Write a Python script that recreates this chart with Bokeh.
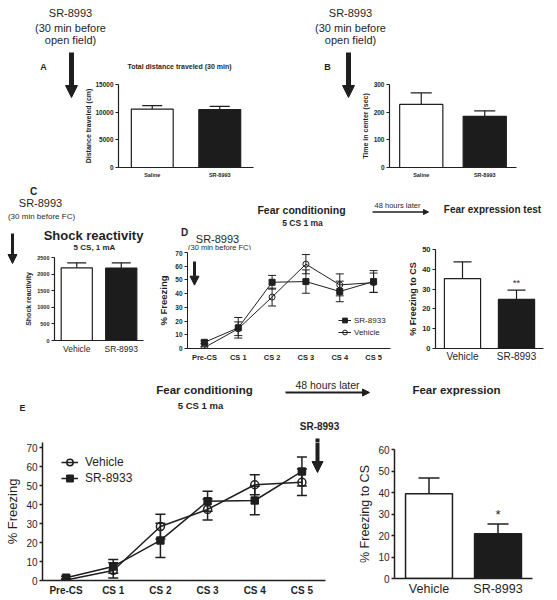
from bokeh.plotting import figure
from bokeh.layouts import row, column
from bokeh.models import (Range1d, FixedTicker, Label, Arrow, NormalHead,
                          Whisker, TeeHead, ColumnDataSource, Legend, LegendItem)
from bokeh.core.properties import value
from bokeh.embed import file_html
from bokeh.resources import INLINE

# ---------------- data ----------------
open_field_groups = ["Saline", "SR-8993"]
distance_mean = [10550, 10450]
distance_sem = [650, 600]
center_time_mean = [228, 185]
center_time_sem = [42, 20]

treat_groups = ["Vehicle", "SR-8993"]
shock_mean = [2190, 2180]
shock_sem = [150, 160]

stages = ["Pre-CS", "CS 1", "CS 2", "CS 3", "CS 4", "CS 5"]
d_sr_mean = [4.5, 15.1, 48.3, 48.8, 41.6, 48.8]
d_sr_sem = [1.0, 7.5, 5.0, 8.5, 7.5, 8.0]
d_veh_mean = [0.7, 14.4, 37.5, 61.5, 46.4, 48.0]
d_veh_sem = [0.6, 5.0, 6.5, 7.0, 8.0, 7.0]
d_test_mean = [35.3, 24.8]
d_test_sem = [8.4, 4.7]
d_test_sig = ["", "**"]

e_veh_mean = [0.3, 5.3, 28.4, 37.4, 50.4, 51.7]
e_veh_sem = [0.5, 4.0, 6.5, 5.5, 5.3, 7.0]
e_sr_mean = [1.4, 7.4, 21.1, 41.7, 42.1, 57.4]
e_sr_sem = [0.8, 3.6, 9.0, 5.3, 7.5, 7.6]
e_test_mean = [39.4, 20.8]
e_test_sem = [7.3, 4.6]
e_test_sig = ["", "*"]

# ---------------- style ----------------
FONT = "Liberation Sans"
INK = "#1f1f1f"
BAR_FILLS = ["white", "#1c1c1c"]


def slots(cats):
    return list(range(1, len(cats) + 1))


def cat_range(cats):
    return Range1d(0.5, len(cats) + 0.5)


def make_fig(ox, oy, w, h, x_range=None, y_range=None, bl=0, br=0, bt=0, bb=0, axes=True):
    if not axes:
        x_range = Range1d(ox, ox + w)
        y_range = Range1d(oy + h, oy)
    kw = {} if axes else dict(x_axis_type=None, y_axis_type=None)
    p = figure(width=w, height=h, x_range=x_range, y_range=y_range, title=None,
               output_backend="svg", toolbar_location=None,
               min_border_left=bl, min_border_right=br,
               min_border_top=bt, min_border_bottom=bb, **kw)
    try:
        p.frame_align = False
    except Exception:
        pass
    p.outline_line_color = None
    p.background_fill_color = "white"
    p.border_fill_color = "white"
    if axes:
        p.xgrid.visible = False
        p.ygrid.visible = False
    # page-pixel coordinates for free annotations
    p.extra_x_ranges = {"px": Range1d(ox + bl, ox + w - br)}
    p.extra_y_ranges = {"px": Range1d(oy + h - bb, oy + bt)}
    return p


def text(p, x, y, s, size, bold=False, align="center"):
    p.add_layout(Label(x=x, y=y, text=s, x_range_name="px", y_range_name="px",
                       text_font=FONT, text_font_size=f"{size}px",
                       text_font_style="bold" if bold else "normal",
                       text_color=INK, text_align=align, text_baseline="middle"))


def arrow(p, x0, y0, x1, y1, lw, head):
    p.add_layout(Arrow(x_start=x0, y_start=y0, x_end=x1, y_end=y1,
                       x_range_name="px", y_range_name="px",
                       line_width=lw, line_color=INK,
                       end=NormalHead(size=head, fill_color=INK, line_color=INK, line_width=1)))


def axes_style(p, cats, yticks, y_tick_px, y_tick_bold, y_title, y_title_px, y_title_bold,
               x_tick_px, x_tick_bold, x_standoff, lw, title_standoff):
    ya, xa = p.yaxis[0], p.xaxis[0]
    for a in (ya, xa):
        a.axis_line_color = INK
        a.axis_line_width = lw
        a.major_label_text_font = FONT
        a.major_label_text_color = INK
        a.minor_tick_line_color = None
    ya.ticker = FixedTicker(ticks=yticks)
    ya.major_tick_in = 0
    ya.major_tick_out = 3
    ya.major_tick_line_color = INK
    ya.major_tick_line_width = lw
    ya.major_label_text_font_size = f"{y_tick_px}px"
    ya.major_label_text_font_style = "bold" if y_tick_bold else "normal"
    ya.major_label_standoff = 2
    ya.axis_label = y_title
    ya.axis_label_text_font = FONT
    ya.axis_label_text_font_size = f"{y_title_px}px"
    ya.axis_label_text_font_style = "bold" if y_title_bold else "normal"
    ya.axis_label_text_color = INK
    ya.axis_label_standoff = title_standoff
    xa.ticker = FixedTicker(ticks=slots(cats))
    xa.major_label_overrides = {i: c for i, c in zip(slots(cats), cats)}
    xa.major_tick_line_color = None
    xa.major_tick_in = 0
    xa.major_tick_out = 0
    xa.major_label_text_font_size = f"{x_tick_px}px"
    xa.major_label_text_font_style = "bold" if x_tick_bold else "normal"
    xa.major_label_standoff = x_standoff


def bars(p, groups, means, sems, width, cap, lw, sig=None, sig_px=9):
    data = dict(x=slots(groups), m=means, hi=[a + b for a, b in zip(means, sems)],
                fill=BAR_FILLS)
    if sig is not None:
        data["sig"] = sig
    src = ColumnDataSource(data)
    p.add_layout(Whisker(source=src, base="x", lower="m", upper="hi", line_color=INK,
                         line_width=lw, lower_head=None,
                         upper_head=TeeHead(size=cap, line_color=INK, line_width=lw)))
    p.vbar(x="x", top="m", bottom=0, width=width, fill_color="fill", line_color=INK,
           line_width=lw, source=src)
    if sig is not None:
        p.text(x="x", y="hi", text="sig", source=src, text_font=value(FONT),
               text_font_size=f"{sig_px}px", text_color=INK, text_align="center",
               text_baseline="bottom", y_offset=-2)


def series(p, means, sems, marker, size, fill, lw, cap):
    src = ColumnDataSource(dict(x=slots(stages), y=means,
                                lo=[a - b for a, b in zip(means, sems)],
                                hi=[a + b for a, b in zip(means, sems)]))
    p.add_layout(Whisker(source=src, base="x", lower="lo", upper="hi", line_color=INK,
                         line_width=lw,
                         upper_head=TeeHead(size=cap, line_color=INK, line_width=lw),
                         lower_head=TeeHead(size=cap, line_color=INK, line_width=lw)))
    l = p.line("x", "y", source=src, line_color=INK, line_width=lw)
    s = p.scatter("x", "y", source=src, marker=marker, size=size, fill_color=fill,
                  line_color=INK, line_width=lw)
    return [l, s]


def legend(p, items, loc, gw, gh, standoff, px):
    p.add_layout(Legend(items=[LegendItem(label=k, renderers=r) for k, r in items],
                        location=loc, orientation="vertical", padding=0, margin=0,
                        spacing=0, glyph_width=gw, glyph_height=gh, label_height=gh,
                        label_standoff=standoff, label_text_font=FONT,
                        label_text_font_size=f"{px}px", label_text_color=INK,
                        border_line_color=None, background_fill_alpha=0))


# ================= Row 1: panels A and B =================
s1 = make_fig(0, 0, 556, 48, axes=False)
for cx in (70, 350):
    for yy, s in [(12, "SR-8993"), (27, "(30 min before"), (39, "open field)")]:
        text(s1, cx, yy, s, 11)

annoA = make_fig(0, 48, 82, 132, axes=False)
arrow(annoA, 71, 52, 71, 97, 5, 12)
text(annoA, 43, 66, "A", 9, True)

annoAt = make_fig(82, 48, 208, 32, axes=False)
text(annoAt, 179, 66, "Total distance traveled (30 min)", 7, True)

fa = make_fig(82, 80, 208, 100, cat_range(open_field_groups), Range1d(0, 15000),
              bl=33, br=37, bt=4, bb=13)
axes_style(fa, open_field_groups, [0, 5000, 10000, 15000], 6.5, True,
           "Distance traveled (cm)", 7, True, 5.5, True, 4, 1.2, 0)
bars(fa, open_field_groups, distance_mean, distance_sem, 0.62, 20, 1.2)

annoB = make_fig(290, 48, 68, 132, axes=False)
arrow(annoB, 348, 52, 348, 97, 5, 12)
text(annoB, 327, 66, "B", 9, True)

fb = make_fig(358, 48, 198, 132, cat_range(open_field_groups), Range1d(0, 300),
              bl=28, br=40, bt=36, bb=13)
axes_style(fb, open_field_groups, [0, 100, 200, 300], 6.5, True,
           "Time in center (sec)", 7, True, 5.5, True, 4, 1.2, 2)
bars(fb, open_field_groups, center_time_mean, center_time_sem, 0.68, 21, 1.2)

# ================= Strip above C / D =================
s2 = make_fig(0, 180, 556, 47, axes=False)
text(s2, 33, 191, "C", 10, True)
text(s2, 40, 202, "SR-8993", 11)
text(s2, 41, 216, "(30 min before FC)", 8)
text(s2, 301, 209, "Fear conditioning", 10.5, True)
text(s2, 302, 222, "5 CS 1 ma", 8.5, True)
text(s2, 397, 205, "48 hours later", 7.5)
arrow(s2, 372, 211.5, 428, 211.5, 1.5, 5)
text(s2, 492, 209, "Fear expression test", 10, True)

# ================= Row 2: C, D (line), D (bar) =================
annoCl = make_fig(0, 227, 20, 137, axes=False)
arrow(annoCl, 12, 233, 12, 263, 3, 9)

annoCt = make_fig(20, 227, 130, 28, axes=False)
text(annoCt, 93, 235, "Shock reactivity", 13, True)
text(annoCt, 94, 247, "5 CS, 1 mA", 8, True)

fc = make_fig(20, 255, 130, 109, cat_range(treat_groups), Range1d(0, 2500),
              bl=34, br=7, bt=2, bb=24)
axes_style(fc, treat_groups, [0, 500, 1000, 1500, 2000, 2500], 5.5, True,
           "Shock reactivity", 7, True, 8.5, False, 3, 1.2, 2)
bars(fc, treat_groups, shock_mean, shock_sem, 0.70, 19, 1.2)

annoDt = make_fig(150, 227, 250, 23, axes=False)
text(annoDt, 184, 232, "D", 10, True)
text(annoDt, 217, 238, "SR-8993", 11)
text(annoDt, 219, 246.5, "(30 min before FC)", 7.5)

fd = make_fig(150, 250, 250, 114, cat_range(stages), Range1d(0, 70),
              bl=37, br=10, bt=2, bb=15)
axes_style(fd, stages, list(range(0, 71, 10)), 6.5, True, "% Freezing", 9.5, True,
           7.5, True, 4, 1.0, 3)
d_sr_r = series(fd, d_sr_mean, d_sr_sem, "square", 6, INK, 1.0, 8)
d_veh_r = series(fd, d_veh_mean, d_veh_sem, "circle", 6, None, 1.0, 8)
legend(fd, [("SR-8933", d_sr_r), ("Vehicle", d_veh_r)], (151, 10), 13, 12, 3, 8)
arrow(fd, 194, 261, 194, 285, 3, 9)

fdb = make_fig(400, 227, 156, 137, cat_range(treat_groups), Range1d(0, 50),
               bl=35, br=13, bt=22, bb=15)
axes_style(fdb, treat_groups, [0, 10, 20, 30, 40, 50], 7.5, True, "% Freezing to CS", 9,
           True, 10, False, 2, 1.2, 1)
bars(fdb, treat_groups, d_test_mean, d_test_sem, 0.67, 18, 1.2, sig=d_test_sig, sig_px=9)

# ================= Strip above E =================
s3 = make_fig(0, 364, 556, 78, axes=False)
text(s3, 204, 389, "Fear conditioning", 11.5, True)
text(s3, 200, 405, "5 CS 1 ma", 9.5, True)
text(s3, 22, 407, "E", 9, True)
text(s3, 327, 384, "48 hours later", 10.5)
arrow(s3, 285, 392, 369, 392, 2, 7)
text(s3, 456, 389, "Fear expression", 11.5, True)
text(s3, 319, 426, "SR-8993", 10, True)
arrow(s3, 317, 438, 317, 472, 4, 11)

# ================= Row 3: E (line), E (bar) =================
E_TOP = 70 * 138 / 133  # frame top sits a few px above the 70 tick
fe = make_fig(0, 442, 355, 157, cat_range(stages), Range1d(0, E_TOP),
              bl=42, br=30, bt=0, bb=19)
axes_style(fe, stages, list(range(0, 71, 10)), 10, False, "% Freezing", 13, False,
           10, True, 4, 1.5, 3)
e_veh_r = series(fe, e_veh_mean, e_veh_sem, "circle", 8, None, 1.5, 10)
e_sr_r = series(fe, e_sr_mean, e_sr_sem, "square", 7, INK, 1.5, 10)
legend(fe, [("Vehicle", e_veh_r), ("SR-8933", e_sr_r)], (19, 94), 17, 16, 7, 12)
arrow(fe, 317, 438, 317, 472, 4, 11)

feb = make_fig(355, 442, 201, 157, cat_range(treat_groups), Range1d(0, 60),
               bl=38, br=24, bt=7, bb=21)
axes_style(feb, treat_groups, [0, 10, 20, 30, 40, 50, 60], 10, False, "% Freezing to CS",
           12.5, False, 12.5, False, 3, 1.5, 3)
bars(feb, treat_groups, e_test_mean, e_test_sem, 0.68, 21, 1.5, sig=e_test_sig, sig_px=13)

layout = column(
    s1,
    row(annoA, column(annoAt, fa), annoB, fb),
    s2,
    row(annoCl, column(annoCt, fc), column(annoDt, fd), fdb),
    s3,
    row(fe, feb),
)

open("out.html", "w").write(file_html(layout, INLINE))
